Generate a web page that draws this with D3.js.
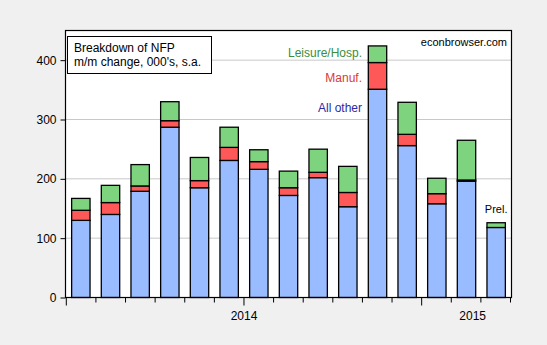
<!DOCTYPE html>
<html><head><meta charset="utf-8">
<script src="https://cdn.jsdelivr.net/npm/d3@7"></script>
<style>
html,body{margin:0;padding:0;background:#f0f0f0;}
svg{display:block;font-family:"Liberation Sans",Arial,sans-serif;}
</style></head>
<body>
<svg id="chart" width="547" height="345"></svg>
<script>
const months = ["2014-01","2014-02","2014-03","2014-04","2014-05","2014-06","2014-07","2014-08","2014-09","2014-10","2014-11","2014-12","2015-01","2015-02","2015-03"];
const allOther = [130,140,179,287,185,231,216,172,202,153,351,256,158,196,118];
const manuf    = [17, 20, 9, 11, 12, 22, 13, 13, 9, 24, 45, 19, 17, 2, 0];
const leisure  = [20, 29, 36, 32, 39, 34, 20, 28, 39, 44, 28, 54, 26, 67, 8];
const yTicks = [0,100,200,300,400];
const yearLabels = [{label:"2014", from:0, to:12},{label:"2015", from:12, to:15.5}];
const seriesNames = ["All other","Manuf.","Leisure/Hosp."];
const colors = ["#99bbff","#ff5858","#7ed47e"];
const textColors = ["#2a2aa8","#d83a3a","#3c8c3c"];

const svg = d3.select("#chart");
const L = 65.5, R = 511.5, T = 30.5, B = 297.5;

const x = d3.scaleBand().domain(months).range([L+0.5, R-0.5]).paddingInner(0.38).paddingOuter(0.19);
const y = d3.scaleLinear().domain([0,450]).range([B, T]);
const tickX = d3.scaleLinear().domain([0, months.length]).range([L+0.8, R-1]);

// plot background
svg.append("rect").attr("x",L).attr("y",T).attr("width",R-L).attr("height",B-T).attr("fill","#fff");

// gridlines
svg.append("g").selectAll("line").data(yTicks.filter(d=>d>0)).join("line")
  .attr("x1",L).attr("x2",R).attr("y1",d=>y(d)).attr("y2",d=>y(d))
  .attr("stroke","#c8c8c8").attr("stroke-width",1);

// stacked bars
const data = months.map((m,i)=>({m, a:allOther[i], b:manuf[i], c:leisure[i]}));
const stack = d3.stack().keys(["a","b","c"])(data);
stack.forEach((s,k)=>{
  svg.append("g").selectAll("rect").data(s.filter(d=>d[1]-d[0]>0)).join("rect")
    .attr("x",d=>x(d.data.m)).attr("width",x.bandwidth())
    .attr("y",d=>y(d[1])).attr("height",d=>y(d[0])-y(d[1]))
    .attr("fill",colors[k]).attr("stroke","#000").attr("stroke-width",1.3);
});

// frame
svg.append("rect").attr("x",L).attr("y",T).attr("width",R-L).attr("height",B-T)
  .attr("fill","none").attr("stroke","#000").attr("stroke-width",1.2);

// y axis
const yAxis = d3.axisLeft(y).tickValues(yTicks).tickSize(5).tickPadding(4);
const gy = svg.append("g").attr("transform",`translate(${L},0)`).call(yAxis);
gy.select(".domain").remove();
gy.selectAll("text").attr("font-size",12).attr("fill","#000").attr("font-family","Liberation Sans, Arial, sans-serif");
gy.selectAll("line").attr("stroke","#000");

// x ticks
const tIdx = d3.range(0, months.length+1);
svg.append("g").selectAll("line").data(tIdx).join("line")
  .attr("x1",d=>tickX(d)).attr("x2",d=>tickX(d))
  .attr("y1",B).attr("y2",d=> (d%6===0)? B+8 : B+5)
  .attr("stroke","#000").attr("stroke-width",1);

// year labels
svg.append("g").selectAll("text").data(yearLabels).join("text")
  .attr("x",(d,i)=> i===0 ? (tickX(d.from)+tickX(d.to))/2 : tickX(d.from)+51)
  .attr("y",320).attr("text-anchor","middle").attr("font-size",12).text(d=>d.label);

// title box
svg.append("rect").attr("x",67.5).attr("y",36.5).attr("width",144).attr("height",37)
  .attr("fill","#fff").attr("stroke","#000").attr("stroke-width",1);
svg.append("text").attr("x",74).attr("y",52).attr("font-size",12).text("Breakdown of NFP");
svg.append("text").attr("x",74).attr("y",66).attr("font-size",12).text("m/m change, 000's, s.a.");

// legend labels
const legY = [112, 82, 57];
seriesNames.forEach((n,k)=>{
  svg.append("text").attr("x",362).attr("y",legY[k]).attr("text-anchor","end")
    .attr("font-size",12).attr("fill",textColors[k]).text(n);
});

svg.append("text").attr("x",507).attr("y",46).attr("text-anchor","end").attr("font-size",11).text("econbrowser.com");
svg.append("text").attr("x",x(months[14])+x.bandwidth()/2).attr("y",213).attr("text-anchor","middle").attr("font-size",11).text("Prel.");
</script>
</body></html>
